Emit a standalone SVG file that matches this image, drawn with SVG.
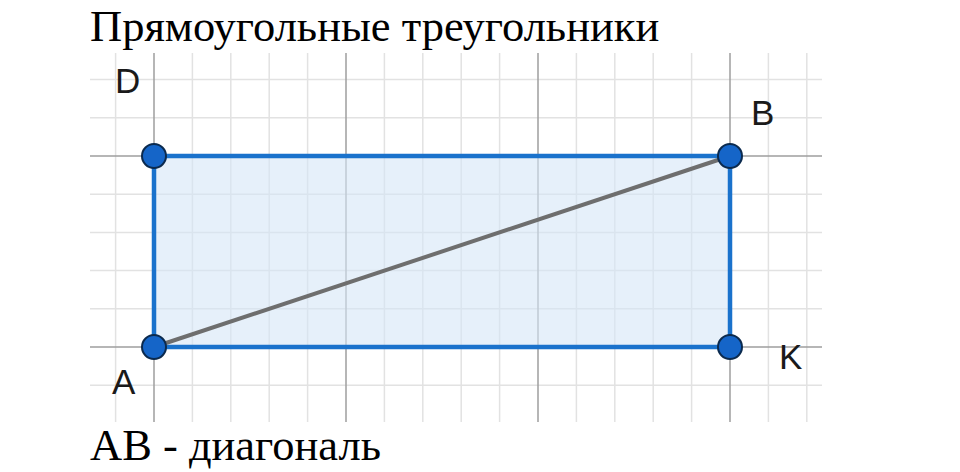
<svg xmlns="http://www.w3.org/2000/svg" width="960" height="472" viewBox="0 0 960 472">
<style>
.minor{stroke:#e2e2e2;stroke-width:1.5;fill:none}
.major{stroke:#9e9e9e;stroke-width:1.5;fill:none}
.title{font-family:"Liberation Serif","Times New Roman",serif;font-size:44.5px;fill:#000}
.lbl{font-family:"Liberation Sans",Arial,sans-serif;font-size:35px;fill:#1a1a1a}
.pt{fill:#1565c8;stroke:#0b2a4e;stroke-width:2}
</style>
<rect width="960" height="472" fill="#fff"/>
<g id="grid">
<path class="minor" d="M115.6 53V422M192.4 53V422M230.8 53V422M269.2 53V422M307.6 53V422M384.4 53V422M422.8 53V422M461.2 53V422M499.6 53V422M576.4 53V422M614.8 53V422M653.2 53V422M691.6 53V422M768.4 53V422M806.8 53V422"/>
<path class="minor" d="M90 79.6H822M90 117.8H822M90 194.2H822M90 232.4H822M90 270.6H822M90 308.8H822M90 385.2H822"/>
<path class="major" d="M154 53V422M346 53V422M538 53V422M730 53V422M90 156H822M90 347H822"/>
</g>
<g id="rectangle">
<rect x="154" y="156" width="576" height="191" fill="#d6e6f6" fill-opacity="0.6" stroke="#1a72cc" stroke-width="4.5"/>
</g>
<g id="connectors">
<line x1="154" y1="347" x2="730" y2="156" stroke="#6e6e6e" stroke-width="4"/>
</g>
<g id="node-D"><circle class="pt" cx="154" cy="156" r="12"/><text class="lbl" x="115" y="93">D</text></g>
<g id="node-B"><circle class="pt" cx="730" cy="156" r="12"/><text class="lbl" x="751" y="125">B</text></g>
<g id="node-A"><circle class="pt" cx="154" cy="347" r="12"/><text class="lbl" x="112" y="394">A</text></g>
<g id="node-K"><circle class="pt" cx="730" cy="347" r="12"/><text class="lbl" x="779" y="369">K</text></g>
<text class="title" x="90" y="41">Прямоугольные треугольники</text>
<text class="title" x="90" y="460">AB - диагональ</text>
</svg>
